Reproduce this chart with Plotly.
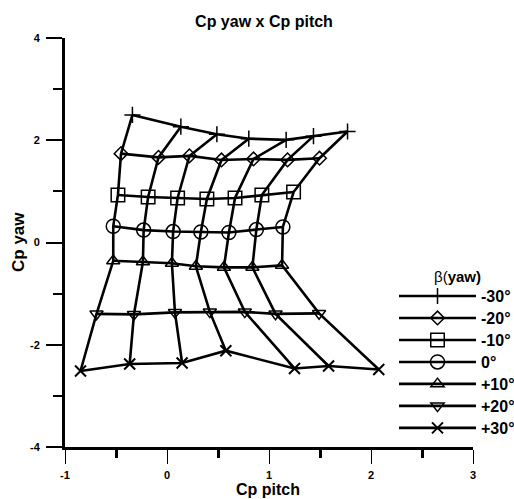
import plotly.graph_objects as go

# Yaw angle labels (rows)
beta_labels = ["-30°", "-20°", "-10°", "0°", "+10°", "+20°", "+30°"]

# Cp pitch values: one list per yaw angle (7 pitch columns each)
cp_pitch_m30 = [-0.339, 0.136, 0.489, 0.802, 1.168, 1.436, 1.770]
cp_pitch_m20 = [-0.451, -0.083, 0.220, 0.534, 0.848, 1.182, 1.495]
cp_pitch_m10 = [-0.481, -0.185, 0.104, 0.391, 0.667, 0.930, 1.241]
cp_pitch_0 = [-0.527, -0.229, 0.060, 0.332, 0.607, 0.876, 1.136]
cp_pitch_p10 = [-0.527, -0.236, 0.048, 0.283, 0.558, 0.837, 1.128]
cp_pitch_p20 = [-0.691, -0.324, 0.078, 0.420, 0.763, 1.064, 1.491]
cp_pitch_p30 = [-0.848, -0.366, 0.148, 0.577, 1.250, 1.584, 2.076]

# Cp yaw values
cp_yaw_m30 = [2.496, 2.266, 2.116, 2.031, 2.008, 2.080, 2.172]
cp_yaw_m20 = [1.738, 1.665, 1.694, 1.614, 1.634, 1.616, 1.649]
cp_yaw_m10 = [0.930, 0.891, 0.870, 0.852, 0.870, 0.930, 0.987]
cp_yaw_0 = [0.317, 0.243, 0.214, 0.206, 0.196, 0.253, 0.304]
cp_yaw_p10 = [-0.358, -0.378, -0.407, -0.466, -0.486, -0.486, -0.447]
cp_yaw_p20 = [-1.397, -1.406, -1.367, -1.357, -1.357, -1.397, -1.387]
cp_yaw_p30 = [-2.513, -2.376, -2.357, -2.116, -2.464, -2.415, -2.484]

xs = [cp_pitch_m30, cp_pitch_m20, cp_pitch_m10, cp_pitch_0, cp_pitch_p10, cp_pitch_p20, cp_pitch_p30]
ys = [cp_yaw_m30, cp_yaw_m20, cp_yaw_m10, cp_yaw_0, cp_yaw_p10, cp_yaw_p20, cp_yaw_p30]

symbols = ["cross-thin-open", "diamond-open", "square-open", "circle-open",
           "triangle-up-open", "triangle-down-open", "x-thin-open"]
sizes = [11.5, 10.5, 13.5, 14, 11.5, 11.5, 11]
mwidths = [1.5, 1.5, 1.5, 1.5, 1.5, 1.5, 2]

x_ticks = [-1, 0, 1, 2, 3]
y_ticks = [-4, -2, 0, 2, 4]

FONT = "Liberation Sans, Arial, sans-serif"
W, H = 514, 499
ML, MR, MT, MB = 65, 41, 38, 52

fig = go.Figure()

# constant-pitch (column) lines
ncol = len(cp_pitch_m30)
for j in range(ncol):
    fig.add_trace(go.Scatter(
        x=[row[j] for row in xs], y=[row[j] for row in ys],
        mode="lines", line=dict(color="black", width=2.6),
        showlegend=False, hoverinfo="skip"))

# constant-yaw (row) lines with markers
for i, lab in enumerate(beta_labels):
    fig.add_trace(go.Scatter(
        x=xs[i], y=ys[i], mode="lines+markers",
        name='<span style="font-size:16px">' + lab + '</span>',
        line=dict(color="black", width=2.6),
        marker=dict(symbol=symbols[i], size=sizes[i], color="black",
                    line=dict(color="black", width=mwidths[i]))))

pw = W - ML - MR
ph = H - MT - MB

def px2paper(px, py):
    return (px - ML) / pw, (H - MB - py) / ph

annos = []
tx, ty = px2paper(268, 489.5)
annos.append(dict(text="<b>Cp pitch</b>", x=tx, y=ty, xref="paper", yref="paper",
                  showarrow=False, font=dict(family=FONT, size=16, color="black"),
                  xanchor="center", yanchor="middle"))
tx, ty = px2paper(18, 242)
annos.append(dict(text="<b>Cp yaw</b>", x=tx, y=ty, xref="paper", yref="paper",
                  showarrow=False, textangle=-90,
                  font=dict(family=FONT, size=17, color="black"),
                  xanchor="center", yanchor="middle"))
tx, ty = px2paper(457, 276)
annos.append(dict(text="β(<b>yaw)</b>", x=tx, y=ty, xref="paper", yref="paper",
                  showarrow=False, font=dict(family=FONT, size=15, color="black"),
                  xanchor="center", yanchor="middle"))

lx, ly = px2paper(394, 280)

fig.update_layout(
    width=W, height=H,
    margin=dict(l=ML, r=MR, t=MT, b=MB, autoexpand=False),
    paper_bgcolor="white", plot_bgcolor="white",
    title=dict(text="<b>Cp yaw x Cp pitch</b>", x=264 / W, xref="container",
               y=1 - 21 / H, yref="container", xanchor="center", yanchor="middle",
               font=dict(family=FONT, size=16, color="black")),
    annotations=annos,
    showlegend=True,
    legend=dict(x=lx, y=ly, xanchor="left", yanchor="top",
                bgcolor="rgba(0,0,0,0)", itemwidth=77,
                font=dict(family=FONT, size=14.6, color="black", weight="bold"),
                tracegroupgap=0),
    xaxis=dict(range=[-1, 3], tickvals=x_ticks, ticktext=[str(v) for v in x_ticks],
               showgrid=False, zeroline=False, showline=True, linewidth=3,
               linecolor="black", ticks="outside", ticklen=14, tickwidth=1,
               tickcolor="black", ticklabelstandoff=2,
               minor=dict(tickvals=[-0.5, 0.5, 1.5, 2.5], ticks="outside",
                          ticklen=8, tickwidth=2.5, tickcolor="black"),
               tickfont=dict(family=FONT, size=11, color="black", weight="bold")),
    yaxis=dict(range=[-4, 4], tickvals=y_ticks, ticktext=[str(v) for v in y_ticks],
               showgrid=False, zeroline=False, showline=True, linewidth=3,
               linecolor="black", ticks="outside", ticklen=16, tickwidth=2,
               tickcolor="black", ticklabelstandoff=4,
               minor=dict(tickvals=[-3, -1, 1, 3], ticks="outside",
                          ticklen=9, tickwidth=2, tickcolor="black"),
               tickfont=dict(family=FONT, size=11, color="black", weight="bold")),
)

fig.write_html("out.html")
